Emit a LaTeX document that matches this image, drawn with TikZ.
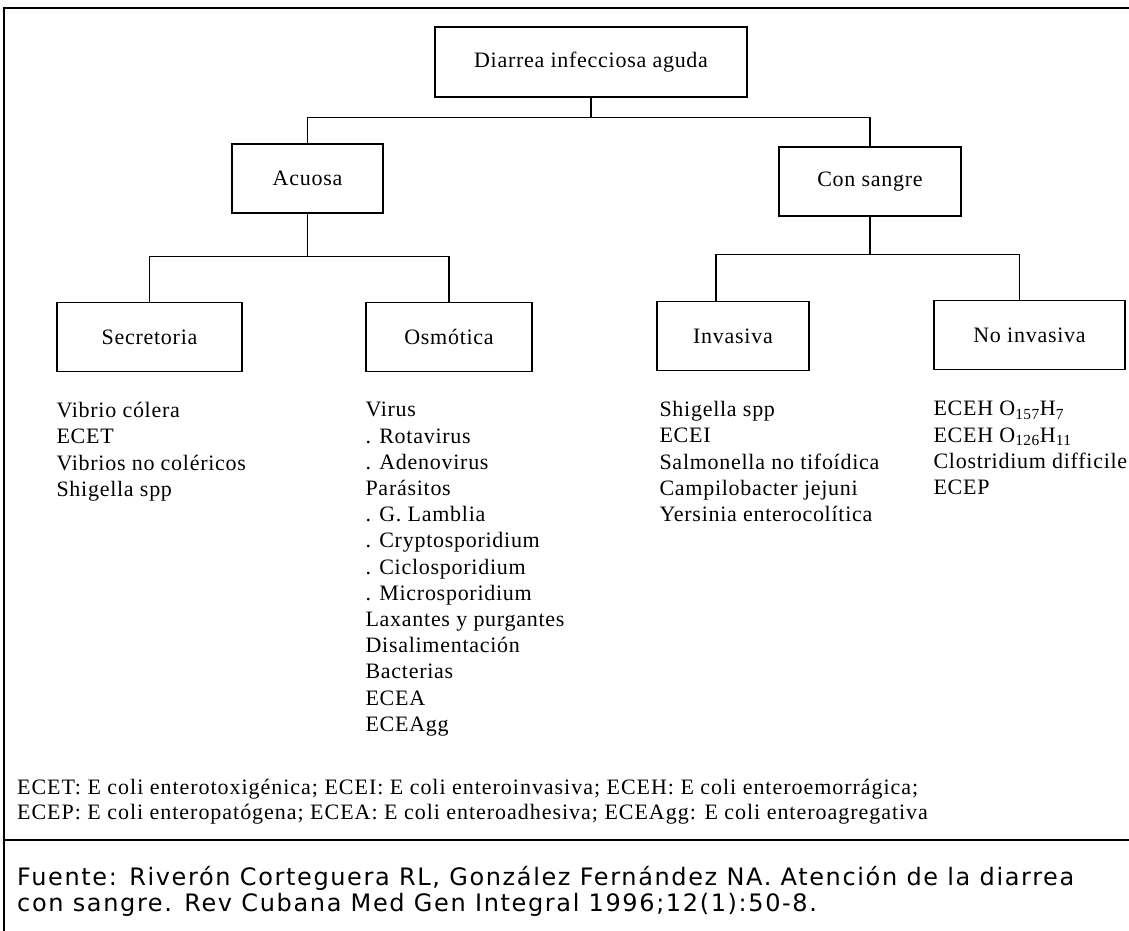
\documentclass[tikz,border=0pt]{standalone}
\usepackage{fontspec}
\setmainfont{Liberation Serif}
\newfontfamily\chartfont{Liberation Serif}[LetterSpace=3.3]
\newfontfamily\notefont{Liberation Serif}[LetterSpace=4.4]
\newfontfamily\sourcefont{DejaVu Sans}[LetterSpace=6.8]
\usetikzlibrary{positioning}

\begin{document}
\begin{tikzpicture}[
    x=1pt, y=-1pt,
    box/.style={rectangle, draw, line width=1.3pt, inner sep=0pt,
                minimum height=69pt, align=center,
                font=\chartfont\fontsize{22}{26.2}\selectfont},
    causes/.style={inner sep=0pt, align=left,
                font=\chartfont\fontsize{22}{26.2}\selectfont},
    link/.style={line width=1.3pt},
    rule/.style={line width=2.6pt}
]
\useasboundingbox (0,0) rectangle (1129,931);

\node[box, minimum width=312pt, minimum height=70pt] (diarrea) at (591,62) {Diarrea infecciosa aguda};
\node[box, minimum width=151pt] (acuosa) at (307.5,178.5) {Acuosa};
\node[box, minimum width=182pt] (sangre) at (870,181.5) {Con sangre};
\node[box, minimum width=185pt] (secretoria) at (149.5,337) {Secretoria};
\node[box, minimum width=166pt] (osmotica) at (449,337) {Osmótica};
\node[box, minimum width=152pt] (invasiva) at (733,336) {Invasiva};
\node[box, minimum width=191pt] (noinvasiva) at (1029.5,335) {No invasiva};

\draw[link] (diarrea.south) -- ++(0,20) -| (acuosa.north);
\draw[link] (diarrea.south) -- ++(0,20) -| (sangre.north);
\draw[link] (acuosa.south) -- ++(0,43) -| (secretoria.north);
\draw[link] (acuosa.south) -- ++(0,43) -| (osmotica.north);
\draw[link] (sangre.south) -- ++(0,38) -| ([xshift=-17pt]invasiva.north);
\draw[link] (sangre.south) -- ++(0,38) -| ([xshift=-10pt]noinvasiva.north);

% Causes under each type
\node[causes, below=30pt of secretoria.south west, anchor=north west] (secretorialist)
    {Vibrio cólera\\ECET\\Vibrios no coléricos\\Shigella spp};
\node[causes, below=30pt of osmotica.south west, anchor=north west] (osmoticalist)
    {Virus\\. Rotavirus\\. Adenovirus\\Parásitos\\. G. Lamblia\\. Cryptosporidium\\
     . Ciclosporidium\\. Microsporidium\\Laxantes y purgantes\\Disalimentación\\
     Bacterias\\ECEA\\ECEAgg};
\node[causes, below=30pt of invasiva.south west, anchor=north west, xshift=3pt] (invasivalist)
    {Shigella spp\\ECEI\\Salmonella no tifoídica\\Campilobacter jejuni\\Yersinia enterocolítica};
\node[causes, below=31pt of noinvasiva.south west, anchor=north west] (noinvasivalist)
    {ECEH O\textsubscript{157}H\textsubscript{7}\\ECEH O\textsubscript{126}H\textsubscript{11}\\
     Clostridium difficile\\ECEP};

% Abbreviations
\node[causes, anchor=north west, font=\notefont\fontsize{22}{25}\selectfont] (abrev) at (17,779)
    {ECET: E coli enterotoxigénica; ECEI: E coli enteroinvasiva; ECEH: E coli enteroemorrágica;\\
     ECEP: E coli enteropatógena; ECEA: E coli enteroadhesiva; ECEAgg: E coli enteroagregativa};

% Frame and source
\draw[rule] (1129,8) -- (4,8) -- (4,931);
\draw[rule] (4,840) -- (1129,840);
\node[anchor=north west, inner sep=0pt, align=left,
      font=\sourcefont\fontsize{24}{26.5}\selectfont] (fuente) at (17,866)
    {Fuente: Riverón Corteguera RL, González Fernández NA. Atención de la diarrea\\
     con sangre. Rev Cubana Med Gen Integral 1996;12(1):50-8.};
\end{tikzpicture}
\end{document}
